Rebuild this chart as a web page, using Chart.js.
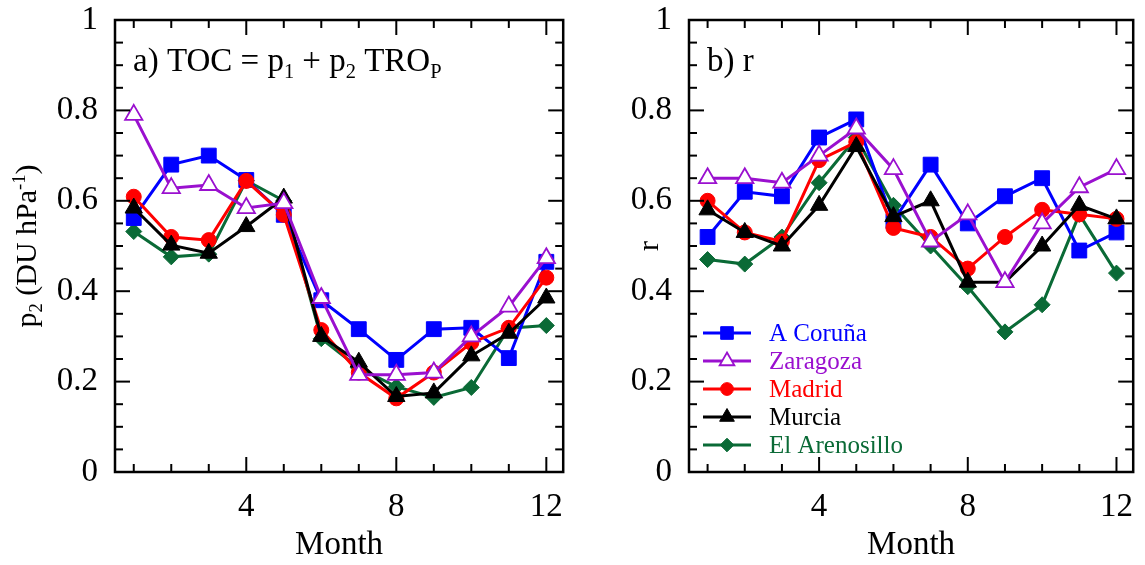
<!DOCTYPE html>
<html>
<head>
<meta charset="utf-8">
<script src="https://cdn.jsdelivr.net/npm/chart.js@4.4.1/dist/chart.umd.min.js"></script>
<style>
    html, body { margin: 0; padding: 0; background: #fff; overflow: hidden; }
    #wrap { position: relative; width: 1145px; height: 565px; overflow: hidden; }
    .panel { position: absolute; top: 0; height: 565px; }
</style>
</head>
<body>
<div id="wrap">
    <div class="panel" style="left:0; width:575px;"><canvas id="p2ChartCanvas"></canvas></div>
    <div class="panel" style="left:575px; width:570px;"><canvas id="rChartCanvas"></canvas></div>
</div>
<script>
// ---------------- Data ---------------------------------------------------
const MONTHS        = [ 1, 2, 3, 4, 5, 6, 7, 8, 9, 10, 11, 12 ] ;
const X_TICK_LABELS = [ 4, 8, 12 ] ;
const Y_TICK_LABELS = [ 0, 0.2, 0.4, 0.6, 0.8, 1 ] ;
const STATIONS      = [ "A Coruña", "Zaragoza", "Madrid", "Murcia", "El Arenosillo" ] ;

// a) p2 slope (DU hPa-1)
const p2Coruna     = [ 0.562, 0.680, 0.700, 0.646, 0.569, 0.380, 0.316, 0.248, 0.316, 0.319, 0.252, 0.465 ] ;
const p2Zaragoza   = [ 0.790, 0.628, 0.635, 0.584, 0.595, 0.385, 0.215, 0.215, 0.220, 0.300, 0.366, 0.473 ] ;
const p2Madrid     = [ 0.609, 0.520, 0.513, 0.644, 0.569, 0.314, 0.220, 0.163, 0.220, 0.286, 0.319, 0.430 ] ;
const p2Murcia     = [ 0.584, 0.502, 0.484, 0.543, 0.606, 0.300, 0.243, 0.167, 0.175, 0.257, 0.307, 0.385 ] ;
const p2Arenosillo = [ 0.532, 0.476, 0.482, 0.645, 0.600, 0.295, 0.230, 0.189, 0.165, 0.187, 0.318, 0.324 ] ;

// b) correlation r
const rCoruna      = [ 0.52, 0.62, 0.61, 0.74, 0.78, 0.555, 0.68, 0.55, 0.61, 0.65, 0.49, 0.53 ] ;
const rZaragoza    = [ 0.65, 0.65, 0.64, 0.70, 0.76, 0.67,  0.51, 0.57, 0.42, 0.55, 0.63, 0.67 ] ;
const rMadrid      = [ 0.60, 0.53, 0.51, 0.69, 0.73, 0.54,  0.52, 0.45, 0.52, 0.58, 0.57, 0.56 ] ;
const rMurcia      = [ 0.58, 0.53, 0.50, 0.59, 0.72, 0.565, 0.60, 0.42, 0.42, 0.50, 0.59, 0.56 ] ;
const rArenosillo  = [ 0.47, 0.46, 0.52, 0.64, 0.74, 0.59,  0.50, 0.41, 0.31, 0.37, 0.57, 0.44 ] ;

// ---------------- Styles -------------------------------------------------
const FONT_FAMILY = "'Liberation Serif', 'Times New Roman', serif" ;
const FONT_SIZE   = 33 ;
const TITLE_SIZE  = 30 ;

const SERIES_STYLES = [
    { color: '#0000FF', pointStyle: 'rect',     radius: 10.5, fill: '#0000FF', order: 4 },
    { color: '#9A10CF', pointStyle: 'triangle', radius: 10,   fill: '#FFFFFF', order: 1 },
    { color: '#FF0000', pointStyle: 'circle',   radius: 7.5,  fill: '#FF0000', order: 3 },
    { color: '#000000', pointStyle: 'triangle', radius: 10,   fill: '#000000', order: 2 },
    { color: '#0A6A36', pointStyle: 'rectRot',  radius: 8,    fill: '#0A6A36', order: 5 },
] ;

Chart.defaults.font.family = FONT_FAMILY ;
Chart.defaults.font.size = FONT_SIZE ;
Chart.defaults.color = '#000' ;

// ---------------- Helpers ------------------------------------------------
function toPoints( values ) {
    return MONTHS.map( ( m, i ) => ( { x: m, y: values[i] } ) ) ;
}

function getDataset( idx, values ) {
    const st = SERIES_STYLES[idx] ;
    return {
        label                : STATIONS[idx],
        data                 : toPoints( values ),
        borderColor          : st.color,
        backgroundColor      : st.color,
        borderWidth          : 3,
        tension              : 0,
        pointStyle           : st.pointStyle,
        pointRadius          : st.radius,
        pointHoverRadius     : st.radius,
        pointBackgroundColor : st.fill,
        pointBorderColor     : st.color,
        pointBorderWidth     : st.fill == '#FFFFFF' ? 1.8 : 1,
        order                : st.order,
    } ;
}

// draws text made of normal / sub / sup pieces, starting at x on baseline y
function drawRichText( ctx, parts, x, y, size ) {
    var cx = x ;
    parts.forEach( p => {
        var fs = p.sub || p.sup ? size * 0.62 : size ;
        var dy = p.sub ? size * 0.2 : ( p.sup ? -size * 0.38 : 0 ) ;
        ctx.font = fs + "px " + FONT_FAMILY ;
        ctx.fillText( p.t, cx, y + dy ) ;
        cx += ctx.measureText( p.t ).width ;
    } ) ;
    return cx - x ;
}

function richTextWidth( ctx, parts, size ) {
    var w = 0 ;
    parts.forEach( p => {
        var fs = p.sub || p.sup ? size * 0.62 : size ;
        ctx.font = fs + "px " + FONT_FAMILY ;
        w += ctx.measureText( p.t ).width ;
    } ) ;
    return w ;
}

function strokeLine( ctx, x1, y1, x2, y2 ) {
    ctx.beginPath() ;
    ctx.moveTo( x1, y1 ) ;
    ctx.lineTo( x2, y2 ) ;
    ctx.stroke() ;
}

// frame with inward ticks on all four sides
const framePlugin = {
    id: 'frame',
    afterDraw( chart ) {
        const ctx = chart.ctx ;
        const a = chart.chartArea ;
        const xs = chart.scales.x ;
        const ys = chart.scales.y ;
        ctx.save() ;
        ctx.strokeStyle = '#000' ;
        ctx.lineWidth = 2 ;
        MONTHS.forEach( m => {
            const px = xs.getPixelForValue( m ) ;
            const len = X_TICK_LABELS.includes( m ) ? 15 : 8 ;
            strokeLine( ctx, px, a.bottom, px, a.bottom - len ) ;
            strokeLine( ctx, px, a.top, px, a.top + len ) ;
        } ) ;
        for( var i = 1; i < 20; i++ ) {
            const py = ys.getPixelForValue( i * 0.05 ) ;
            const len = ( i % 4 == 0 ) ? 15 : 8 ;
            strokeLine( ctx, a.left, py, a.left + len, py ) ;
            strokeLine( ctx, a.right, py, a.right - len, py ) ;
        }
        ctx.lineWidth = 2.5 ;
        ctx.strokeRect( a.left, a.top, a.right - a.left, a.bottom - a.top ) ;
        ctx.restore() ;
    }
} ;

// panel label, y-axis title and (optionally) legend
function makeTextPlugin( label, yTitle, titleX, showLegend ) {
    return {
        id: 'texts',
        afterDraw( chart ) {
            const ctx = chart.ctx ;
            const a = chart.chartArea ;
            ctx.save() ;
            ctx.fillStyle = '#000' ;
            ctx.textBaseline = 'alphabetic' ;
            ctx.textAlign = 'left' ;
            drawRichText( ctx, label, a.left + 18, 71, FONT_SIZE ) ;

            ctx.save() ;
            ctx.translate( titleX, ( a.top + a.bottom ) / 2 ) ;
            ctx.rotate( -Math.PI / 2 ) ;
            const w = richTextWidth( ctx, yTitle, TITLE_SIZE ) ;
            drawRichText( ctx, yTitle, -w / 2, 0, TITLE_SIZE ) ;
            ctx.restore() ;

            if( showLegend ) {
                chart.data.datasets.forEach( ( ds, i ) => {
                    const y = 333 + i * 28 ;
                    const x0 = a.left + 14 ;
                    ctx.strokeStyle = ds.borderColor ;
                    ctx.lineWidth = 3 ;
                    strokeLine( ctx, x0, y, x0 + 48, y ) ;
                    ctx.fillStyle = ds.pointBackgroundColor ;
                    ctx.strokeStyle = ds.pointBorderColor ;
                    ctx.lineWidth = ds.pointBorderWidth ;
                    Chart.helpers.drawPoint( ctx, {
                        pointStyle: ds.pointStyle,
                        radius: ds.pointRadius * 0.85,
                        borderWidth: ds.pointBorderWidth,
                        rotation: 0
                    }, x0 + 24, y ) ;
                    ctx.font = "25px " + FONT_FAMILY ;
                    ctx.fillStyle = ds.borderColor ;
                    ctx.textBaseline = 'middle' ;
                    ctx.fillText( ds.label, x0 + 66, y + 1 ) ;
                } ) ;
            }
            ctx.restore() ;
        }
    } ;
}

function getChartOptions( yAxisWidth, rightPad ) {
    return {
        responsive: true,
        maintainAspectRatio: false,
        animation: false,
        events: [],
        layout: { padding: { top: 20, right: rightPad, left: 0, bottom: 0 } },
        plugins: {
            legend: { display: false },
            tooltip: { enabled: false },
        },
        scales: {
            x: {
                type: 'linear',
                min: 0.5,
                max: 12.45,
                grid: { display: false, drawTicks: false },
                border: { display: false },
                afterBuildTicks: s => { s.ticks = X_TICK_LABELS.map( v => ( { value: v } ) ) ; },
                afterFit: s => {
                    s.height = 93 ;
                    s.paddingLeft = 0 ;
                    s.paddingRight = 0 ;
                },
                ticks: { padding: 16, maxRotation: 0, autoSkip: false,
                         callback: v => String( v ) },
                title: { display: true, text: 'Month', padding: { top: 0, bottom: 0 } },
            },
            y: {
                min: 0,
                max: 1,
                grid: { display: false, drawTicks: false },
                border: { display: false },
                afterBuildTicks: s => { s.ticks = Y_TICK_LABELS.map( v => ( { value: v } ) ) ; },
                afterFit: s => {
                    s.width = yAxisWidth ;
                    s.paddingTop = 0 ;
                    s.paddingBottom = 0 ;
                },
                ticks: { padding: 17, callback: v => String( v ) },
            }
        }
    } ;
}

// ---------------- Charts -------------------------------------------------
new Chart( document.getElementById( 'p2ChartCanvas' ), {
    type: 'line',
    data: {
        datasets: [
            getDataset( 0, p2Coruna ),
            getDataset( 1, p2Zaragoza ),
            getDataset( 2, p2Madrid ),
            getDataset( 3, p2Murcia ),
            getDataset( 4, p2Arenosillo ),
        ]
    },
    options: getChartOptions( 115, 10 ),
    plugins: [ framePlugin, makeTextPlugin(
        [ { t: 'a) TOC = p' }, { t: '1', sub: true }, { t: ' + p' }, { t: '2', sub: true },
          { t: ' TRO' }, { t: 'P', sub: true } ],
        [ { t: 'p' }, { t: '2', sub: true }, { t: ' (DU hPa' }, { t: '-1', sup: true }, { t: ')' } ],
        36, false ) ]
} ) ;

new Chart( document.getElementById( 'rChartCanvas' ), {
    type: 'line',
    data: {
        datasets: [
            getDataset( 0, rCoruna ),
            getDataset( 1, rZaragoza ),
            getDataset( 2, rMadrid ),
            getDataset( 3, rMurcia ),
            getDataset( 4, rArenosillo ),
        ]
    },
    options: getChartOptions( 114, 7 ),
    plugins: [ framePlugin, makeTextPlugin(
        [ { t: 'b) r' } ],
        [ { t: 'r' } ],
        83, true ) ]
} ) ;
</script>
</body>
</html>
